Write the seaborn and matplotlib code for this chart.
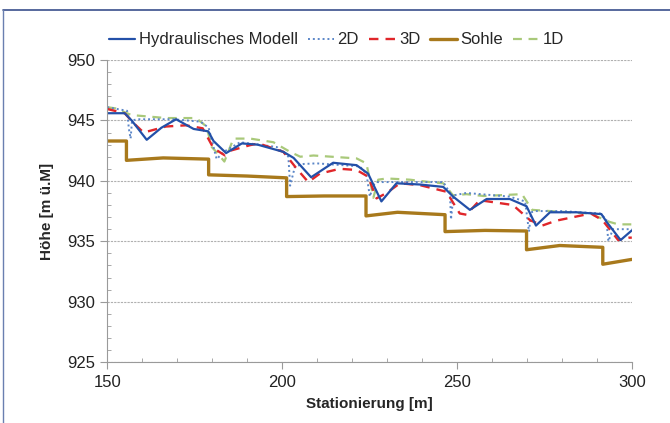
import matplotlib
matplotlib.use("Agg")
import matplotlib.pyplot as plt
import seaborn as sns
from matplotlib.lines import Line2D
from matplotlib.ticker import MultipleLocator

# -----------------------------
# DATA
# -----------------------------
hm_x = [150, 155, 157, 161.3, 165.5, 169.7, 174.7, 178.9, 180.4, 184.0, 188.5, 193.0,
        200.4, 203.3, 208.3, 214.6, 221.3, 224.6, 228.4, 232.7, 239.4, 246.1, 248.9,
        253.7, 258.5, 265.1, 269.9, 272.6, 276.6, 284.2, 291.3, 292.8, 296.8, 300]
hm_y = [945.6, 945.6, 945.0, 943.4, 944.4, 945.1, 944.3, 944.1, 943.3, 942.3, 943.1, 943.0,
        942.4, 941.9, 940.3, 941.5, 941.3, 940.6, 938.3, 939.8, 939.7, 939.5, 938.7,
        937.6, 938.5, 938.5, 937.9, 936.3, 937.4, 937.4, 937.25, 936.6, 935.1, 935.9]

d2_x = [150, 155.7, 156.2, 156.7, 157.1, 158.6, 169, 176.7, 179, 180.5, 181.3, 183.3,
        188, 198.5, 201.8, 202.3, 203.7, 206.2, 209.9, 222.2, 224.1, 225.1, 226.1, 227,
        236.5, 246.1, 248, 248.3, 249, 252.7, 265, 269.5, 270.6, 271.2, 272.6, 280,
        291, 292.7, 293.3, 294.6, 300]
d2_y = [946.1, 945.8, 944.3, 943.5, 945.0, 945.1, 945.1, 944.9, 944.4, 942.7, 941.8, 942.4,
        943.2, 942.8, 942.0, 939.6, 941.2, 941.4, 941.45, 941.2, 940.6, 938.7, 939.65, 939.9,
        939.9, 939.9, 939.0, 936.8, 938.8, 939.0, 938.7, 938.3, 935.8, 937.4, 937.5, 937.5,
        937.3, 936.8, 935.0, 936.0, 936.0]

d3_x = [150, 155, 157.5, 160.4, 166.8, 172.5, 177.3, 180.4, 183.7, 185.2, 190.9, 193.3,
        200.4, 204.2, 207.5, 210.8, 216.5, 221.3, 224.6, 227, 229.9, 233.7, 239.4, 247,
        250.8, 252.7, 256.5, 266, 270.9, 274.4, 278.3, 288.3, 291.6, 296.1, 299.3, 300]
d3_y = [945.95, 945.6, 944.8, 944.0, 944.5, 944.6, 944.35, 942.7, 942.1, 942.5, 942.96, 943.1,
        942.4, 941.0, 939.9, 940.6, 941.0, 940.9, 940.35, 938.55, 939.0, 939.8, 939.65, 939.1,
        937.3, 937.2, 938.4, 938.0, 936.75, 936.3, 936.7, 937.3, 936.75, 935.1, 935.3, 935.3]

sohle_x = [150, 155.5, 155.5, 166, 179, 179, 190, 201.3, 201.3, 212, 224, 224, 233,
           246.6, 246.6, 258, 269.9, 269.9, 279.4, 291.7, 291.7, 300]
sohle_y = [943.3, 943.3, 941.7, 941.9, 941.8, 940.5, 940.4, 940.25, 938.7, 938.75, 938.75,
           937.1, 937.4, 937.2, 935.8, 935.9, 935.85, 934.3, 934.65, 934.5, 933.1, 933.5]

d1_x = [150, 152.4, 156.9, 166.8, 175.4, 178.4, 179.9, 181.5, 183.5, 186.1, 190.9, 197.5,
        202.3, 205.2, 209, 221.3, 224.1, 225.1, 226.1, 227.5, 229.9, 236.5, 242.3, 246.1,
        248.9, 252.7, 257.6, 268.6, 271.5, 276.6, 288, 293.7, 296.1, 300]
d1_y = [946.1, 946.0, 945.45, 945.2, 945.2, 944.5, 942.8, 942.3, 941.6, 943.5, 943.5, 943.2,
        942.4, 942.0, 942.1, 941.86, 941.45, 940.1, 938.6, 940.1, 940.2, 940.1, 939.9, 939.8,
        938.8, 938.9, 938.75, 938.9, 937.6, 937.5, 937.3, 936.6, 936.4, 936.4]

# -----------------------------
# PLOT
# -----------------------------
sns.set_style("white")
plt.rcParams["font.family"] = ["Liberation Sans", "DejaVu Sans"]

fig = plt.figure(figsize=(6.7, 4.23), dpi=100)
ax = fig.add_axes([0.160, 0.144, 0.783, 0.714])

common = dict(estimator=None, sort=False, ax=ax)
sns.lineplot(x=sohle_x, y=sohle_y, color="#a8791c", lw=2.4, label="Sohle", **common)
sns.lineplot(x=d1_x, y=d1_y, color="#a9c97a", lw=1.6, linestyle=(0, (4, 3)), label="1D", **common)
sns.lineplot(x=d2_x, y=d2_y, color="#5b86c8", lw=1.4, linestyle=(0, (1, 1.5)), label="2D", **common)
sns.lineplot(x=d3_x, y=d3_y, color="#e0262a", lw=1.7, linestyle=(0, (4, 3)), label="3D", **common)
sns.lineplot(x=hm_x, y=hm_y, color="#2350a8", lw=1.6, label="Hydraulisches Modell", **common)

ax.set_xlim(150, 300)
ax.set_ylim(925, 950)
ax.xaxis.set_major_locator(MultipleLocator(50))
ax.xaxis.set_minor_locator(MultipleLocator(10))
ax.yaxis.set_major_locator(MultipleLocator(5))
ax.yaxis.set_minor_locator(MultipleLocator(1))
ax.grid(axis="y", which="major", color="#b0b0b0", lw=0.8, linestyle=(0, (2, 1)))
ax.set_axisbelow(True)

for s in ["top", "right"]:
    ax.spines[s].set_visible(False)
for s in ["left", "bottom"]:
    ax.spines[s].set_color("#9a9a9a")
    ax.spines[s].set_linewidth(0.8)

ax.tick_params(axis="both", which="major", direction="out", length=5, color="#9a9a9a",
               labelsize=12, labelcolor="#222222", left=True, bottom=True)
ax.tick_params(axis="both", which="minor", direction="in", length=3, color="#9a9a9a",
               left=True, bottom=True)
ax.tick_params(axis="x", which="major", pad=4)

ax.set_xlabel("Stationierung [m]", fontsize=11, fontweight="bold", labelpad=5)
ax.set_ylabel("Höhe [m ü.M]", fontsize=11, fontweight="bold", labelpad=10)

handles, labels = ax.get_legend_handles_labels()
order = ["Hydraulisches Modell", "2D", "3D", "Sohle", "1D"]
hmap = dict(zip(labels, handles))
ax.legend([hmap[k] for k in order], order, loc="lower left", bbox_to_anchor=(-0.01, 1.02),
          ncol=5, frameon=False, fontsize=12, handlelength=1.6, handletextpad=0.2,
          columnspacing=0.6, borderaxespad=0)

# scanned page frame
fig.add_artist(Line2D([0.0045, 1.0], [0.976, 0.976], transform=fig.transFigure,
                      color="#3a4f8c", lw=1.2))
fig.add_artist(Line2D([0.0045, 0.0045], [0.0, 0.976], transform=fig.transFigure,
                      color="#6a7fb0", lw=1.0))

fig.savefig("out.png", dpi=100)
